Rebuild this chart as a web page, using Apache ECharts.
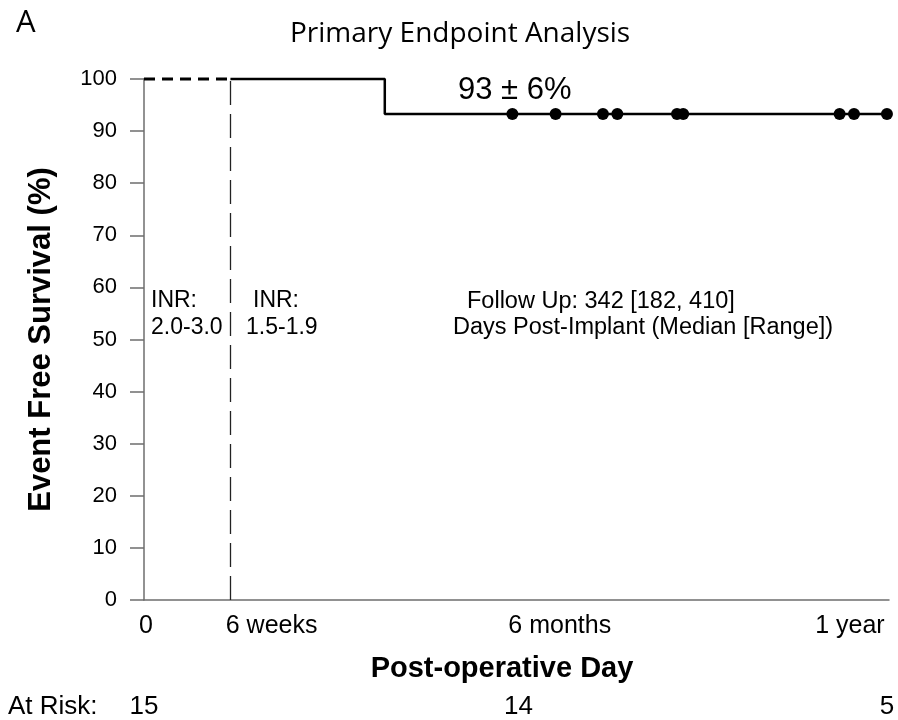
<!DOCTYPE html>
<html>
<head>
<meta charset="utf-8">
<script src="https://cdn.jsdelivr.net/npm/echarts@6/dist/echarts.min.js"></script>
<style>
  html, body { margin: 0; padding: 0; background: #fff; }
  #chart { width: 898px; height: 720px; }
</style>
</head>
<body>
<div id="chart"></div>
<script>
// Kaplan-Meier style event-free survival, x axis in post-operative days
const tickLabelDays = [1, 62, 202, 343];
const tickLabels = ['0', '6 weeks', '6 months', '1 year'];

const atRiskDays = [0, 182, 361];
const atRiskCounts = ['15', '14', '5'];

// early anticoagulation window (INR 2.0-3.0) drawn dashed
const earlyDays = [0, 42];
const earlyPct = [100, 100];

// survival curve after 6 weeks
const survivalDays = [42, 117, 361];
const survivalPct = [100, 93.3, 93.3];

// censored follow-up times
const censorDays = [179, 200, 223, 230, 259, 262, 338, 345, 361];
const censorPct = [93.3, 93.3, 93.3, 93.3, 93.3, 93.3, 93.3, 93.3, 93.3];

const sixWeekDay = 42;

const FONT = '"Liberation Sans", Arial, sans-serif';
const TITLE_FONT = '"Open Sans", "Liberation Sans", sans-serif';
const AXIS_GREY = '#6e6e6e';

const zip = (xs, ys) => xs.map((x, i) => [x, ys[i]]);

const chart = echarts.init(document.getElementById('chart'), null, { renderer: 'canvas' });

const option = {
  animation: false,
  backgroundColor: '#fff',
  grid: { left: 144, right: 9, top: 79, bottom: 120, outerBoundsMode: 'none' },
  xAxis: [
    {
      type: 'value',
      min: 0,
      max: 362,
      position: 'bottom',
      name: 'Post-operative Day',
      nameLocation: 'middle',
      nameGap: 54,
      nameTextStyle: {
        fontFamily: FONT, fontSize: 29, fontWeight: 'bold', color: '#000',
        padding: [0, 29, 0, 0]
      },
      axisLine: { show: true, onZero: false, lineStyle: { color: AXIS_GREY, width: 1.5 } },
      axisTick: { show: false },
      splitLine: { show: false },
      axisLabel: {
        customValues: tickLabelDays,
        formatter: v => tickLabels[tickLabelDays.indexOf(v)] || '',
        fontFamily: FONT, fontSize: 25, color: '#000', margin: 14
      }
    },
    {
      type: 'value',
      min: 0,
      max: 362,
      position: 'bottom',
      offset: 86,
      axisLine: { show: false },
      axisTick: { show: false },
      splitLine: { show: false },
      axisLabel: {
        customValues: atRiskDays,
        formatter: v => atRiskCounts[atRiskDays.indexOf(v)] || '',
        fontFamily: FONT, fontSize: 26, color: '#000', margin: 8
      }
    }
  ],
  yAxis: {
    type: 'value',
    min: 0,
    max: 100,
    interval: 10,
    name: 'Event Free Survival (%)',
    nameLocation: 'middle',
    nameGap: 87,
    nameTextStyle: { fontFamily: FONT, fontSize: 31, fontWeight: 'bold', color: '#000' },
    axisLine: { show: true, lineStyle: { color: AXIS_GREY, width: 1.5 } },
    axisTick: { show: true, inside: false, length: 14, lineStyle: { color: AXIS_GREY, width: 1.5 } },
    splitLine: { show: false },
    axisLabel: { fontFamily: FONT, fontSize: 22, color: '#000', margin: 27 }
  },
  series: [
    {
      name: 'INR 2.0-3.0',
      type: 'line',
      data: zip(earlyDays, earlyPct),
      showSymbol: false,
      clip: false,
      lineStyle: { color: '#000', width: 3, type: [11, 7] },
      z: 3
    },
    {
      name: 'Event free survival',
      type: 'line',
      step: 'end',
      data: zip(survivalDays, survivalPct),
      showSymbol: false,
      clip: false,
      lineStyle: { color: '#000', width: 2.5 },
      markLine: {
        silent: true,
        symbol: 'none',
        label: { show: false },
        lineStyle: { color: '#222', width: 1.3, type: [24, 9] },
        data: [{ xAxis: sixWeekDay }]
      },
      z: 3
    },
    {
      name: 'Censored',
      type: 'scatter',
      data: zip(censorDays, censorPct),
      symbol: 'circle',
      symbolSize: 12,
      itemStyle: { color: '#000', opacity: 1 },
      clip: false,
      z: 4
    }
  ],
  graphic: [
    { type: 'text', left: 16, top: 8,
      style: { text: 'A', font: '31px ' + TITLE_FONT, fill: '#000' } },
    { type: 'text', left: 290, top: 20,
      style: { text: 'Primary Endpoint Analysis', font: '28px ' + TITLE_FONT, fill: '#000' } },
    { type: 'text', x: 458, y: 90,
      style: { text: '93 \u00b1 6%', font: '31px ' + FONT, fill: '#000', verticalAlign: 'middle' } },
    { type: 'text', x: 151, y: 301,
      style: { text: 'INR:', font: '23px ' + FONT, fill: '#000', verticalAlign: 'middle' } },
    { type: 'text', x: 151, y: 328,
      style: { text: '2.0-3.0', font: '23px ' + FONT, fill: '#000', verticalAlign: 'middle' } },
    { type: 'text', x: 253, y: 301,
      style: { text: 'INR:', font: '23px ' + FONT, fill: '#000', verticalAlign: 'middle' } },
    { type: 'text', x: 246, y: 328,
      style: { text: '1.5-1.9', font: '23px ' + FONT, fill: '#000', verticalAlign: 'middle' } },
    { type: 'text', x: 467, y: 302,
      style: { text: 'Follow Up: 342 [182, 410]', font: '23.5px ' + FONT, fill: '#000', verticalAlign: 'middle' } },
    { type: 'text', x: 453, y: 328,
      style: { text: 'Days Post-Implant (Median [Range])', font: '23.5px ' + FONT, fill: '#000', verticalAlign: 'middle' } },
    { type: 'text', x: 8, y: 707,
      style: { text: 'At Risk:', font: '26px ' + FONT, fill: '#000', verticalAlign: 'middle' } }
  ]
};

chart.setOption(option);
</script>
</body>
</html>
